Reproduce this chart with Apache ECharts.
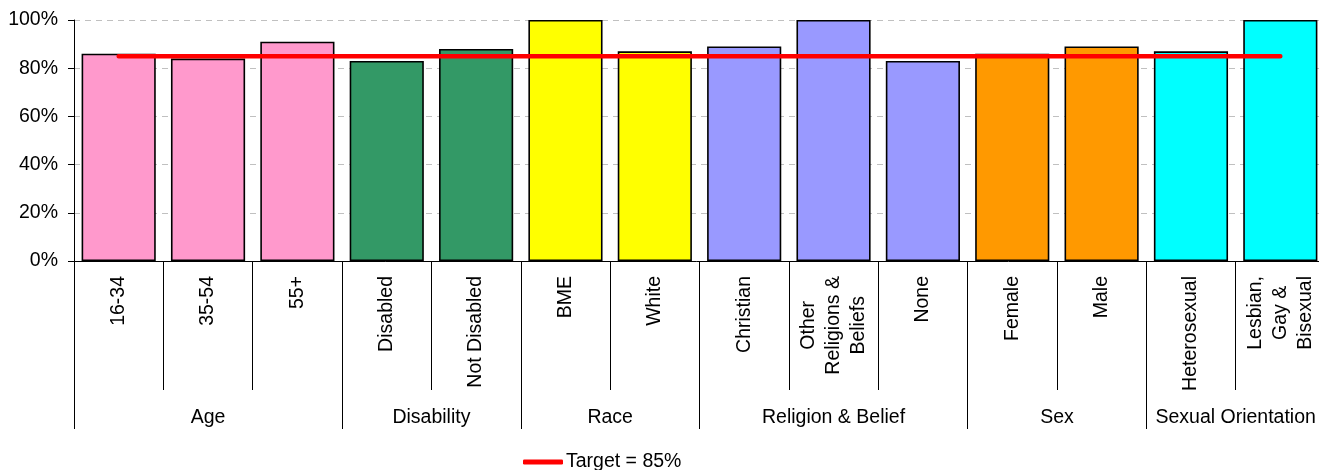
<!DOCTYPE html>
<html>
<head>
<meta charset="utf-8">
<script src="https://cdn.jsdelivr.net/npm/echarts@6/dist/echarts.min.js"></script>
<style>
  html, body { margin: 0; padding: 0; background: #fff; }
  #chart { width: 1319px; height: 470px; }
</style>
</head>
<body>
<div id="chart"></div>
<script>
// Satisfaction by equality group
const categories = ['16-34', '35-54', '55+', 'Disabled', 'Not Disabled', 'BME', 'White',
  'Christian', 'Other\nReligions &\nBeliefs', 'None', 'Female', 'Male', 'Heterosexual',
  'Lesbian,\nGay &\nBisexual'];
const satisfaction = [86, 84, 91, 83, 88, 100, 87, 89, 100, 83, 86, 89, 87, 100];
const groupNames = ['Age', 'Disability', 'Race', 'Religion & Belief', 'Sex', 'Sexual Orientation'];
const groupSizes = [3, 2, 2, 3, 2, 2];
const targetValue = 85;
const targetName = 'Target = 85%';
const yTicks = [0, 20, 40, 60, 80, 100];

const groupColors = ['#FF99CC', '#339966', '#FFFF00', '#9999FF', '#FF9900', '#00FFFF'];
const FONT = 'Arial, "Liberation Sans", sans-serif';
const FS = 19.5;

// group boundaries and centres in category units
const groupEdges = [0];
const groupCentres = [];
const groupOfCat = [];
groupSizes.forEach((n, g) => {
  const start = groupEdges[groupEdges.length - 1];
  groupCentres.push(start + n / 2);
  groupEdges.push(start + n);
  for (let i = 0; i < n; i++) groupOfCat.push(g);
});

const chart = echarts.init(document.getElementById('chart'), null, { renderer: 'canvas' });

chart.setOption({
  animation: false,
  backgroundColor: '#fff',
  grid: { left: 74, right: -6, top: 20, bottom: 209, containLabel: false, outerBoundsMode: 'none' },
  legend: {
    data: [{ name: targetName, icon: 'roundRect' }],
    left: 523, top: 452,
    padding: 0,
    itemWidth: 40, itemHeight: 5,
    itemStyle: { color: '#FF0000', borderWidth: 0 },
    textStyle: { fontFamily: FONT, fontSize: FS, color: '#000', padding: [0, 0, 0, -2] }
  },
  xAxis: [
    {
      type: 'category',
      position: 'bottom',
      data: categories,
      boundaryGap: true,
      axisLine: { show: true, lineStyle: { color: '#000', width: 1 } },
      axisTick: { show: true, length: 129, alignWithLabel: false, interval: 0, lineStyle: { color: '#000', width: 1 } },
      axisLabel: {
        interval: 0,
        rotate: 90,
        margin: 15,
        lineHeight: 25,
        fontFamily: FONT, fontSize: FS, color: '#000',
        formatter: v => v.split('\n').map(s => '{c|' + s + '}').join('\n'),
        rich: { c: { align: 'center', fontFamily: FONT, fontSize: FS, color: '#000', lineHeight: 25 } }
      },
      splitLine: { show: false }
    },
    {
      type: 'value',
      position: 'bottom',
      min: 0,
      max: categories.length,
      axisLine: { show: false },
      axisTick: {
        show: true, length: 168, customValues: groupEdges,
        lineStyle: { color: '#000', width: 1 }
      },
      axisLabel: {
        show: true,
        customValues: groupCentres,
        margin: 147,
        fontFamily: FONT, fontSize: FS, color: '#000',
        formatter: v => groupNames[groupCentres.indexOf(v)] || ''
      },
      splitLine: { show: false }
    }
  ],
  yAxis: {
    type: 'value',
    min: yTicks[0],
    max: yTicks[yTicks.length - 1],
    interval: yTicks[1] - yTicks[0],
    axisLine: { show: true, lineStyle: { color: '#000', width: 1 } },
    axisTick: { show: true, length: 6, lineStyle: { color: '#000', width: 1 } },
    axisLabel: { margin: 16, fontFamily: FONT, fontSize: FS, color: '#000', formatter: '{value}%' },
    splitLine: { show: true, lineStyle: { color: '#c0c0c0', width: 1, type: [6, 5] } }
  },
  series: [
    {
      type: 'bar',
      xAxisIndex: 0,
      barWidth: '83%',
      data: satisfaction.map((v, i) => ({
        value: v,
        itemStyle: { color: groupColors[groupOfCat[i]] }
      })),
      itemStyle: { borderColor: '#000', borderWidth: 1.6 },
      z: 2
    },
    {
      type: 'line',
      name: targetName,
      xAxisIndex: 0,
      data: categories.map(() => targetValue),
      symbol: 'none',
      lineStyle: { color: '#FF0000', width: 4.5, cap: 'round' },
      itemStyle: { color: '#FF0000' },
      z: 5
    }
  ]
});
</script>
</body>
</html>
